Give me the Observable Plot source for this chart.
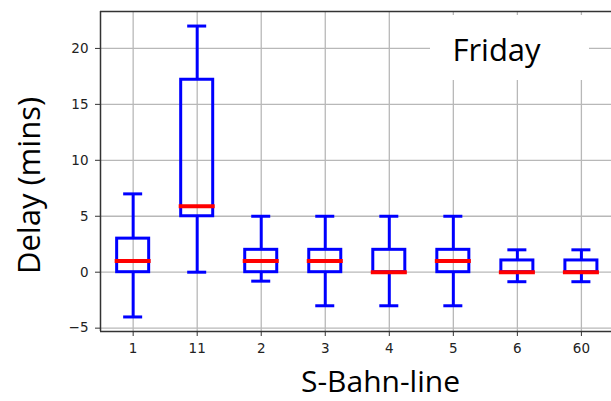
<!DOCTYPE html>
<html>
<head>
<meta charset="utf-8">
<script src="https://cdn.jsdelivr.net/npm/d3@7"></script>
<script src="https://cdn.jsdelivr.net/npm/@observablehq/plot@0.6"></script>
<style>
  html, body { margin: 0; padding: 0; background: white; }
  svg { display: block; }
</style>
</head>
<body>
<div id="chart"></div>
<script>
const lines = ["1", "11", "2", "3", "4", "5", "6", "60"];
const whiskerLow = [-4, 0, -0.8, -3, -3, -3, -0.85, -0.85];
const q1 = [0, 5, 0, 0, 0, 0, 0, 0];
const median = [1, 5.9, 1, 1, 0, 1, 0, 0];
const q3 = [3, 17.2, 2, 2, 2, 2, 1.05, 1.05];
const whiskerHigh = [7, 22, 5, 5, 5, 5, 2, 2];
const yTicks = [-5, 0, 5, 10, 15, 20];
const title = "Friday";
const xLabel = "S-Bahn-line";
const yLabel = "Delay (mins)";

const data = lines.map((l, i) => ({
  pos: i + 1, line: l, lo: whiskerLow[i], q1: q1[i], med: median[i], q3: q3[i], hi: whiskerHigh[i]
}));
const positions = data.map(d => d.pos);

const blue = "#0000ff", red = "#ff0000", grid = "#b8b8b8", spine = "#333";
const bigFont = "'Open Sans', 'Noto Sans', sans-serif";

const xDomain = [0.49, 8.47];
const yDomain = [-5.3, 23.3];

const chart = Plot.plot({
  width: 611,
  height: 401,
  marginLeft: 100,
  marginRight: 0,
  marginTop: 11,
  marginBottom: 70,
  style: { fontFamily: "DejaVu Sans, sans-serif", background: "white", color: "#222" },
  x: { type: "linear", domain: xDomain },
  y: { domain: yDomain },
  marks: [
    Plot.ruleX(positions, { stroke: grid, strokeWidth: 1.3 }),
    Plot.ruleY(yTicks, { stroke: grid, strokeWidth: 1.3 }),
    // white box behind the title
    (index, scales, values, dimensions) =>
      d3.create("svg:rect")
        .attr("x", 430).attr("y", 15).attr("width", 159).attr("height", 65)
        .attr("fill", "white").node(),
    Plot.text([title], { text: d => d, frameAnchor: "top", textAnchor: "middle", dx: 140.5, dy: 39.5, fontSize: 31, fontFamily: bigFont, fill: "black", lineAnchor: "middle" }),
    // whiskers
    Plot.ruleX(data, { x: "pos", y1: "lo", y2: "q1", stroke: blue, strokeWidth: 3 }),
    Plot.ruleX(data, { x: "pos", y1: "q3", y2: "hi", stroke: blue, strokeWidth: 3 }),
    Plot.ruleY(data, { y: "lo", x1: d => d.pos - 0.125, x2: d => d.pos + 0.125, stroke: blue, strokeWidth: 3, strokeLinecap: "square" }),
    Plot.ruleY(data, { y: "hi", x1: d => d.pos - 0.125, x2: d => d.pos + 0.125, stroke: blue, strokeWidth: 3, strokeLinecap: "square" }),
    // boxes
    Plot.rect(data, { x1: d => d.pos - 0.25, x2: d => d.pos + 0.25, y1: "q1", y2: "q3", fill: "none", stroke: blue, strokeWidth: 3 }),
    // medians
    Plot.ruleY(data, { y: "med", x1: d => d.pos - 0.25, x2: d => d.pos + 0.25, stroke: red, strokeWidth: 4, strokeLinecap: "square" }),
    // spines
    Plot.ruleX([xDomain[0]], { stroke: spine, strokeWidth: 1.5 }),
    Plot.ruleY([yDomain[0]], { stroke: spine, strokeWidth: 1.5 }),
    Plot.ruleY([yDomain[1]], { stroke: spine, strokeWidth: 1.5 }),
    // axes
    Plot.axisY({ ticks: yTicks, tickSize: 5, tickPadding: 7, fontSize: 13.5, label: null, stroke: spine }),
    Plot.axisX({ ticks: positions, tickFormat: d => lines[d - 1], tickSize: 5, tickPadding: 7, fontSize: 13.5, label: null, stroke: spine }),
    // axis titles
    Plot.text([yLabel], { text: d => d, frameAnchor: "left", textAnchor: "middle", dx: -70.4, dy: 14, rotate: -90, fontSize: 31, fontFamily: bigFont, fill: "black", lineAnchor: "middle" }),
    Plot.text([xLabel], { text: d => d, frameAnchor: "bottom", textAnchor: "middle", dx: 24.5, dy: 50.5, fontSize: 30, fontFamily: bigFont, fill: "black", lineAnchor: "middle" })
  ]
});
document.getElementById("chart").appendChild(chart);
</script>
</body>
</html>
